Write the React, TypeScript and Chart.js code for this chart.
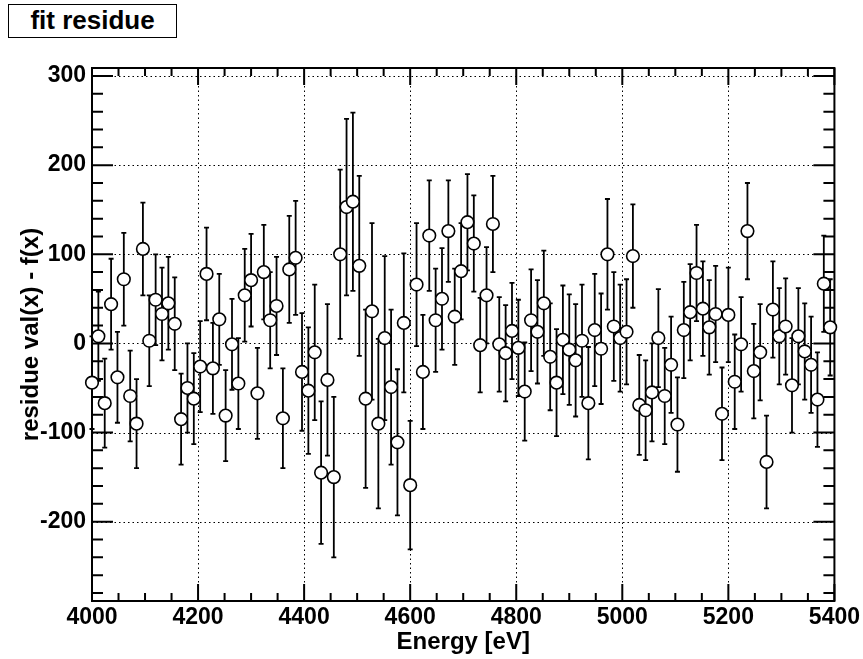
import React, { useEffect, useRef } from "react";
import { Chart, registerables } from "chart.js";

Chart.register(...registerables);

// ---- data ----
const energies = [
  4000, 4012, 4024, 4036, 4048, 4060, 4072, 4084, 4096, 4108,
  4120, 4132, 4144, 4156, 4168, 4180, 4192, 4204, 4216, 4228,
  4240, 4252, 4264, 4276, 4288, 4300, 4312, 4324, 4336, 4348,
  4360, 4372, 4384, 4396, 4408, 4420, 4432, 4444, 4456, 4468,
  4480, 4492, 4504, 4516, 4528, 4540, 4552, 4564, 4576, 4588,
  4600, 4612, 4624, 4636, 4648, 4660, 4672, 4684, 4696, 4708,
  4720, 4732, 4744, 4756, 4768, 4780, 4792, 4804, 4816, 4828,
  4840, 4852, 4864, 4876, 4888, 4900, 4912, 4924, 4936, 4948,
  4960, 4972, 4984, 4996, 5008, 5020, 5032, 5044, 5056, 5068,
  5080, 5092, 5104, 5116, 5128, 5140, 5152, 5164, 5176, 5188,
  5200, 5212, 5224, 5236, 5248, 5260, 5272, 5284, 5296, 5308,
  5320, 5332, 5344, 5356, 5368, 5380, 5392,
];

const residues = [
  -44, 8, -67, 44, -38, 72, -59, -90, 106, 3,
  49, 33, 45, 22, -85, -50, -62, -26, 78, -28,
  27, -81, -1, -45, 54, 71, -56, 80, 26, 42,
  -84, 83, 96, -32, -53, -10, -145, -41, -150, 100,
  153, 159, 87, -62, 36, -90, 6, -49, -111, 23,
  -159, 66, -32, 121, 26, 50, 126, 30, 81, 136,
  112, -2, 54, 134, -1, -11, 14, -5, -54, 26,
  13, 45, -15, -44, 4, -7, -19, 3, -67, 15,
  -6, 100, 19, 6, 13, 98, -69, -75, -55, 6,
  -59, -24, -91, 15, 35, 79, 39, 18, 33, -79,
  32, -43, -1, 126, -31, -10, -133, 38, 8, 19,
  -47, 8, -9, -24, -63, 67, 18,
];

const errors = [
  52, 50, 50, 51, 51, 52, 51, 50, 52, 51,
  51, 52, 52, 52, 51, 50, 51, 51, 52, 51,
  51, 51, 51, 51, 52, 52, 51, 53, 54, 55,
  56, 60, 64, 66, 71, 76, 80, 85, 90, 95,
  99, 100, 101, 100, 99, 95, 92, 87, 82, 78,
  72, 69, 64, 62, 58, 57, 57, 54, 54, 54,
  54, 53, 54, 54, 53, 54, 54, 54, 55, 57,
  58, 59, 60, 60, 61, 62, 63, 63, 63, 63,
  62, 62, 61, 60, 59, 58, 56, 56, 55, 55,
  54, 54, 53, 54, 54, 54, 53, 53, 54, 52,
  53, 53, 53, 54, 53, 54, 52, 54, 54, 54,
  53, 54, 54, 54, 53, 54, 54,
];

const xTicks = [4000, 4200, 4400, 4600, 4800, 5000, 5200, 5400];
const yTicks = [-200, -100, 0, 100, 200, 300];
const xRange = [4000, 5400];
const yRange = [-289, 309];
const xMinorStep = 50;
const yMinorStep = 20;

const titleText = "fit residue";
const xTitle = "Energy [eV]";
const yTitle = "residue val(x) - f(x)";

const FONT = "'Liberation Sans', Arial, Helvetica, sans-serif";

const rootFramePlugin = {
  id: "rootFrame",
  beforeDatasetsDraw(chart: any) {
    const { ctx, chartArea: a, scales } = chart;
    const xs = scales.x;
    const ys = scales.y;
    ctx.save();
    ctx.strokeStyle = "#000";

    // dotted grid at major ticks
    ctx.lineWidth = 1;
    ctx.setLineDash([1.5, 3]);
    ctx.beginPath();
    for (const v of xTicks) {
      const px = Math.round(xs.getPixelForValue(v)) + 0.5;
      ctx.moveTo(px, a.top);
      ctx.lineTo(px, a.bottom);
    }
    for (const v of yTicks) {
      const py = Math.round(ys.getPixelForValue(v)) + 0.5;
      ctx.moveTo(a.left, py);
      ctx.lineTo(a.right, py);
    }
    ctx.stroke();
    ctx.setLineDash([]);

    // frame
    ctx.lineWidth = 2;
    ctx.strokeRect(a.left, a.top, a.right - a.left, a.bottom - a.top);

    // ticks (inside, all four sides)
    ctx.lineWidth = 2;
    ctx.beginPath();
    for (let v = xRange[0]; v <= xRange[1]; v += xMinorStep) {
      const major = v % 200 === 0;
      const len = major ? 17 : 8;
      const px = xs.getPixelForValue(v);
      ctx.moveTo(px, a.bottom);
      ctx.lineTo(px, a.bottom - len);
      ctx.moveTo(px, a.top);
      ctx.lineTo(px, a.top + len);
    }
    const yStart = Math.ceil(yRange[0] / yMinorStep) * yMinorStep;
    for (let v = yStart; v <= yRange[1]; v += yMinorStep) {
      const major = v % 100 === 0;
      const len = major ? 21 : 11;
      const py = ys.getPixelForValue(v);
      ctx.moveTo(a.left, py);
      ctx.lineTo(a.left + len, py);
      ctx.moveTo(a.right, py);
      ctx.lineTo(a.right - len, py);
    }
    ctx.stroke();

    // error bars
    ctx.lineWidth = 1.8;
    ctx.beginPath();
    for (let i = 0; i < energies.length; i++) {
      const px = xs.getPixelForValue(energies[i]);
      const yTop = ys.getPixelForValue(residues[i] + errors[i]);
      const yBot = ys.getPixelForValue(residues[i] - errors[i]);
      ctx.moveTo(px, yTop);
      ctx.lineTo(px, yBot);
      ctx.moveTo(px - 2.5, yTop);
      ctx.lineTo(px + 2.5, yTop);
      ctx.moveTo(px - 2.5, yBot);
      ctx.lineTo(px + 2.5, yBot);
    }
    ctx.stroke();
    ctx.restore();
  },
};

export default function App() {
  const canvasRef = useRef<HTMLCanvasElement | null>(null);

  useEffect(() => {
    const canvas = canvasRef.current;
    if (!canvas) return;
    const points = energies.map((e, i) => ({ x: e, y: residues[i] }));
    const tickFont = { family: FONT, size: 23, weight: "bold" as const };
    const titleFont = { family: FONT, size: 24, weight: "bold" as const };

    const chart = new Chart(canvas, {
      type: "scatter",
      data: {
        datasets: [
          {
            data: points,
            pointStyle: "circle",
            pointRadius: 6.3,
            pointHoverRadius: 6.3,
            pointBackgroundColor: "#fff",
            pointBorderColor: "#000",
            pointBorderWidth: 1.6,
            showLine: false,
            clip: false as any,
          },
        ],
      },
      options: {
        animation: false,
        responsive: false,
        devicePixelRatio: 1,
        events: [],
        layout: { padding: { left: 0, top: 68, right: 28, bottom: 0 } },
        plugins: {
          legend: { display: false },
          tooltip: { enabled: false },
          title: { display: false },
        },
        scales: {
          x: {
            type: "linear",
            min: xRange[0],
            max: xRange[1],
            grid: { display: false, drawTicks: false },
            border: { display: false },
            ticks: {
              color: "#000",
              font: tickFont,
              padding: 3,
              maxRotation: 0,
              autoSkip: false,
              callback: (v: any) => String(v),
            },
            afterBuildTicks: (s: any) => {
              s.ticks = xTicks.map((v) => ({ value: v }));
            },
            afterFit: (s: any) => {
              s.height = 58;
            },
            title: {
              display: true,
              text: xTitle,
              color: "#000",
              font: titleFont,
              padding: { top: 0, bottom: 2 },
            },
          },
          y: {
            type: "linear",
            min: yRange[0],
            max: yRange[1],
            grid: { display: false, drawTicks: false },
            border: { display: false },
            ticks: {
              color: "#000",
              font: tickFont,
              padding: 6,
              autoSkip: false,
              callback: (v: any) => String(v),
            },
            afterBuildTicks: (s: any) => {
              s.ticks = yTicks.map((v) => ({ value: v }));
            },
            afterFit: (s: any) => {
              s.width = 92;
            },
            title: {
              display: true,
              text: yTitle,
              color: "#000",
              font: titleFont,
              padding: { top: 17, bottom: 0 },
            },
          },
        },
      },
      plugins: [rootFramePlugin],
    });
    return () => chart.destroy();
  }, []);

  return (
    <div style={{ position: "absolute", left: 0, top: 0, width: 863, height: 659, background: "#fff" }}>
      <canvas ref={canvasRef} width={863} height={659} style={{ display: "block", width: 863, height: 659 }} />
      <div
        style={{
          position: "absolute",
          left: 8,
          top: 4,
          width: 169,
          height: 34,
          boxSizing: "border-box",
          border: "1.5px solid #000",
          background: "#fff",
          fontFamily: FONT,
          fontWeight: "bold",
          fontSize: 26,
          lineHeight: "31px",
          textAlign: "center",
          color: "#000",
        }}
      >
        {titleText}
      </div>
    </div>
  );
}
